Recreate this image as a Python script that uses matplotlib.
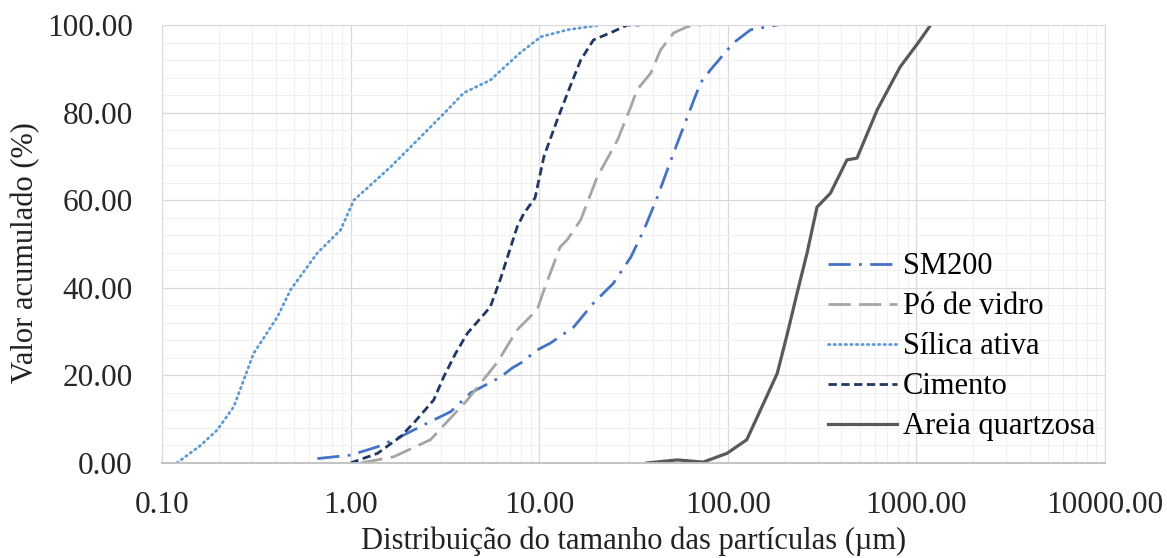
import numpy as np
import matplotlib
matplotlib.use("Agg")
import matplotlib.pyplot as plt
from matplotlib.ticker import FixedLocator, FuncFormatter, MultipleLocator, LogLocator, NullFormatter

plt.rcParams['font.family'] = ['Liberation Serif', 'DejaVu Serif']

# Cumulative particle size distributions (x in µm, y in %)
sm200_x = [0.666, 1.0, 1.39, 1.84, 2.55, 3.39, 4.33, 6.23, 7.2, 8.1, 9.76, 11.5, 15.2, 19.4,
           24.7, 30.6, 35.9, 42.3, 51.6, 61, 71.7, 80.7, 107, 132, 183]
sm200_y = [1, 1.8, 3.7, 6, 9.1, 11.7, 16, 19.6, 21.7, 23, 25.8, 27.4, 31, 36.5,
           41, 47, 53.2, 60.7, 70.8, 79, 86.8, 89.7, 95.9, 98.9, 100]

vidro_x = [1.13, 1.69, 2.65, 4.16, 6.0, 7.64, 9.76, 10.6, 12.9, 14.1, 16.6, 20.3, 26,
           30.6, 33, 39, 44, 51.6, 61, 71.7]
vidro_y = [0, 1.4, 5.3, 14.4, 23, 30.4, 35, 39.5, 49.3, 51, 55.5, 65.3, 73.7,
           81.3, 85.2, 89, 94.3, 98.2, 99.6, 100]

silica_x = [0.12, 0.16, 0.196, 0.24, 0.306, 0.41, 0.48, 0.665, 0.885, 1.04, 1.63, 2.26,
            3.26, 3.98, 5.5, 7.9, 10.2, 14.1, 21.2]
silica_y = [0, 4, 7.5, 12.8, 25, 33.4, 39.5, 47.9, 53.2, 60, 67.6, 73.7,
            80.6, 84.5, 87.4, 93.6, 97.3, 98.9, 100]

cimento_x = [1.0, 1.39, 1.84, 2.2, 2.76, 3.12, 3.6, 4.16, 5.5, 6.23, 7.64, 8.3, 9.5,
             10.6, 12.45, 14.6, 16.6, 19.4, 24.7, 29.3, 34]
cimento_y = [0, 2.2, 6, 9.5, 14.4, 19.7, 25, 29.6, 35.6, 42, 53.9, 57, 60.5,
             70, 78.3, 86, 92, 96.6, 98.5, 100, 100]

areia_x = [37.3, 54, 74, 99, 126, 155, 183, 207, 233, 263, 297, 350, 428, 484, 619,
           819, 1020, 1190]
areia_y = [0, 0.7, 0.2, 2.2, 5.3, 13.7, 20.5, 29.6, 38.8, 47.9, 58.4, 61.6, 69.2, 69.6,
           80.6, 90.4, 95.9, 100]

x_ticks = [0.1, 1, 10, 100, 1000, 10000]

fig = plt.figure(figsize=(11.67, 5.58), dpi=100)
ax = fig.add_axes([0.1388, 0.1703, 0.8081, 0.7849])

lw = 2.0
ax.plot(sm200_x, sm200_y, color='#4472C4', lw=lw, dashes=(8, 3, 1, 3), label='SM200')
ax.plot(vidro_x, vidro_y, color='#A5A5A5', lw=lw, dashes=(8, 3), label='Pó de vidro')
ax.plot(silica_x, silica_y, color='#5B9BD5', lw=lw, dashes=(0.5, 1.5),
        dash_capstyle='round', label='Sílica ativa')
ax.plot(cimento_x, cimento_y, color='#203864', lw=lw, dashes=(3, 1.6), label='Cimento')
ax.plot(areia_x, areia_y, color='#595959', lw=lw + 0.3, label='Areia quartzosa')

ax.set_xscale('log')
ax.set_xlim(0.1, 10000)
ax.set_ylim(0, 100)

ax.xaxis.set_major_locator(FixedLocator(x_ticks))
ax.xaxis.set_minor_locator(LogLocator(base=10, subs=np.arange(2, 10), numticks=20))
ax.xaxis.set_minor_formatter(NullFormatter())
ax.xaxis.set_major_formatter(FuncFormatter(lambda v, p: f"{v:.2f}"))
ax.yaxis.set_major_locator(MultipleLocator(20))
ax.yaxis.set_minor_locator(MultipleLocator(4))
ax.yaxis.set_major_formatter(FuncFormatter(lambda v, p: f"{v:.2f}"))

ax.grid(True, which='major', color='#D9D9D9', lw=0.9)
ax.grid(True, which='minor', color='#F0F0F0', lw=0.8)
ax.set_axisbelow(True)

ax.tick_params(which='both', length=0, labelsize=22.5, colors='#262626')
ax.tick_params(axis='y', pad=21)
ax.tick_params(axis='x', pad=20)
for s in ['top', 'right', 'left']:
    ax.spines[s].set_color('#D9D9D9')
ax.spines['bottom'].set_color('#BFBFBF')
ax.spines['bottom'].set_linewidth(1.3)

ax.set_ylabel('Valor acumulado (%)', fontsize=22, color='#222222')
ax.yaxis.set_label_coords(-0.145, 0.48)
ax.yaxis.label.set_va('center')
ax.set_xlabel('Distribuição do tamanho das partículas (µm)', fontsize=22, color='#222222')
ax.xaxis.set_label_coords(0.5, -0.178)
ax.xaxis.label.set_va('center')

ax.legend(loc='center left', bbox_to_anchor=(0.706, 0.265), frameon=False, fontsize=22,
          borderpad=0, borderaxespad=0, handlelength=2.25, handletextpad=0.2,
          labelspacing=0.36)

fig.savefig('out.png', dpi=100)
